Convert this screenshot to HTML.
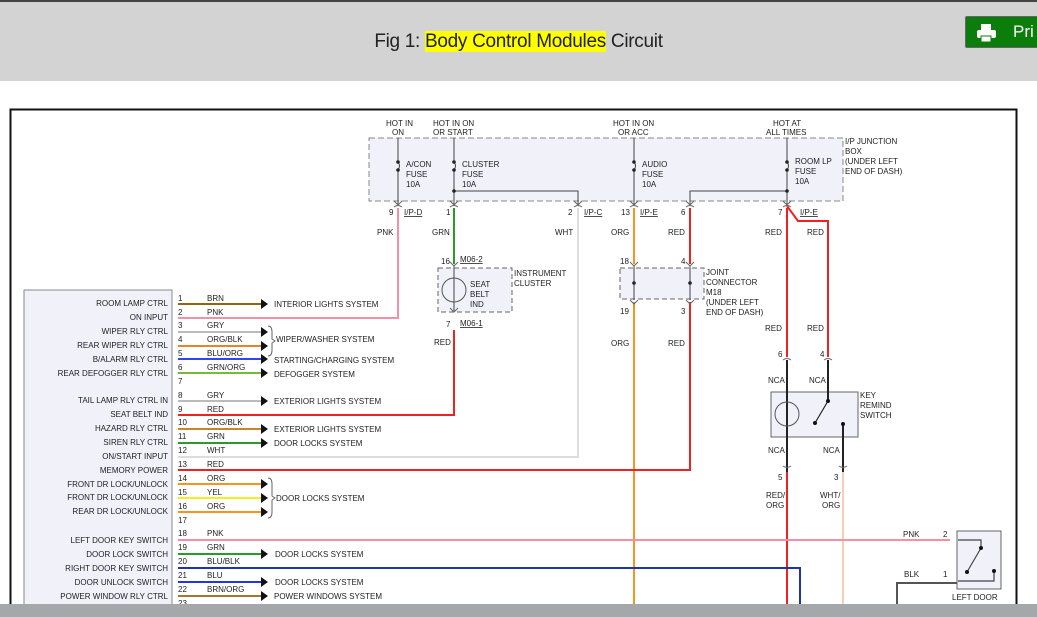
<!DOCTYPE html>
<html><head><meta charset="utf-8"><style>
html,body{margin:0;padding:0;width:1037px;height:617px;overflow:hidden;background:#fff;font-family:"Liberation Sans",sans-serif}
.hdr{position:absolute;left:0;top:0;width:1037px;height:81px;background:#d3d3d3;border-top:2px solid #444;box-sizing:border-box}
.ttl{position:absolute;left:0;width:1037px;top:31px;text-align:center;font-size:19px;color:#222;letter-spacing:-0.3px}
.ttl span{background:#ffff00}
.btn{position:absolute;left:965px;top:16px;width:80px;height:30px;background:#0a7d0a;border:1px solid #666;border-radius:2px;color:#fff;font-size:17px}
.bot{position:absolute;left:0;top:604px;width:1037px;height:13px;background:#a5a8ab}
svg{position:absolute;left:0;top:0}
text{font-family:"Liberation Sans",sans-serif;font-size:8px;fill:#222}
</style></head><body>
<div class="hdr"></div>
<div class="ttl">Fig 1: <span>Body Control Modules</span> Circuit</div>
<div class="btn"><svg width="30" height="30" style="position:absolute;left:10px;top:4px"><rect x="5" y="3" width="10" height="6" fill="#fff"/><rect x="1" y="9" width="19" height="8" rx="2" fill="#fff"/><rect x="5" y="15" width="10" height="6" fill="#fff" stroke="#0a7d0a"/></svg><span style="position:absolute;left:47px;top:5px">Pri</span></div>
<svg width="1037" height="617">
<rect x="10.5" y="109.5" width="1006" height="520" fill="none" stroke="#111" stroke-width="2"/>
<!-- fuse box -->
<rect x="369" y="138" width="474" height="63" fill="#f1f1fa" stroke="#888" stroke-dasharray="6,3"/>
<text x="386" y="126">HOT IN</text><text x="392" y="135">ON</text>
<text x="433" y="126">HOT IN ON</text><text x="433" y="135">OR START</text>
<text x="613" y="126">HOT IN ON</text><text x="618" y="135">OR ACC</text>
<text x="773" y="126">HOT AT</text><text x="766" y="135">ALL TIMES</text>
<text x="845" y="144">I/P JUNCTION</text><text x="845" y="154">BOX</text><text x="845" y="164">(UNDER LEFT</text><text x="845" y="174">END OF DASH)</text>
<g stroke="#444" fill="none">
<path d="M398 138V162M398 170V205M454 138V162M454 170V205M634 138V162M634 170V205M787 138V162M787 170V205"/>
<path d="M398 162q3 4 0 8M454 162q3 4 0 8M634 162q3 4 0 8M787 162q3 4 0 8"/>
<path d="M454 191H578V205M787 191H690V205"/>
</g>
<g fill="#222"><circle cx="398" cy="162" r="1.8"/><circle cx="398" cy="170" r="1.8"/><circle cx="454" cy="162" r="1.8"/><circle cx="454" cy="170" r="1.8"/><circle cx="634" cy="162" r="1.8"/><circle cx="634" cy="170" r="1.8"/><circle cx="787" cy="162" r="1.8"/><circle cx="787" cy="170" r="1.8"/><circle cx="454" cy="191" r="1.8"/><circle cx="787" cy="191" r="1.8"/></g>
<text x="406" y="167">A/CON</text><text x="406" y="177">FUSE</text><text x="406" y="187">10A</text>
<text x="462" y="167">CLUSTER</text><text x="462" y="177">FUSE</text><text x="462" y="187">10A</text>
<text x="642" y="167">AUDIO</text><text x="642" y="177">FUSE</text><text x="642" y="187">10A</text>
<text x="795" y="164">ROOM LP</text><text x="795" y="174">FUSE</text><text x="795" y="184">10A</text>
<g stroke="#666" fill="none"><path d="M394 201l4 4 4-4M450 201l4 4 4-4M574 201l4 4 4-4M630 201l4 4 4-4M686 201l4 4 4-4M783 201l4 4 4-4"/><path d="M394 207q4-3 8 0M450 207q4-3 8 0M574 207q4-3 8 0M630 207q4-3 8 0M686 207q4-3 8 0M783 207q4-3 8 0"/></g>
<text x="389" y="215">9</text><text x="404" y="215" text-decoration="underline">I/P-D</text>
<text x="446" y="215">1</text><text x="568" y="215">2</text><text x="584" y="215" text-decoration="underline">I/P-C</text>
<text x="621" y="215">13</text><text x="640" y="215" text-decoration="underline">I/P-E</text>
<text x="681" y="215">6</text><text x="778" y="215">7</text><text x="800" y="215" text-decoration="underline">I/P-E</text>
<text x="377" y="235">PNK</text><text x="432" y="235">GRN</text><text x="555" y="235">WHT</text><text x="611" y="235">ORG</text><text x="668" y="235">RED</text><text x="765" y="235">RED</text><text x="807" y="235">RED</text>
<!-- wires vertical -->
<g fill="none" stroke-width="2">
<path d="M398 208V318H178" stroke="#f48fa8"/>
<path d="M454 208V264" stroke="#2a9a2a"/>
<path d="M578 208V457H178" stroke="#ddd"/>
<path d="M634 208V264M634 302V604" stroke="#f7941d"/>
<path d="M690 208V264M690 302V470H178" stroke="#ee2222"/>
<path d="M454 330V415H178" stroke="#ee2222"/>
<path d="M787 208V357M787 206L798 221H828V357" stroke="#ee2222"/>
<path d="M787 472V604" stroke="#ee2222"/>
<path d="M843 472V604" stroke="#f0d0b8"/>
<path d="M178 540H950" stroke="#f48fa8"/>
<path d="M178 568H800V604" stroke="#2233aa"/>
</g>
<!-- instrument cluster -->
<rect x="438" y="268" width="74" height="44" fill="#f1f1fa" stroke="#666" stroke-dasharray="5,3"/>
<path d="M454 265V311" stroke="#444" fill="none"/>
<circle cx="454" cy="290" r="12" fill="none" stroke="#555"/>
<path d="M450 262l4 4 4-4M450 308l4 4 4-4" stroke="#666" fill="none"/>
<text x="441" y="264">16</text><text x="460" y="262" text-decoration="underline">M06-2</text>
<text x="470" y="287">SEAT</text><text x="470" y="297">BELT</text><text x="470" y="307">IND</text>
<text x="514" y="276">INSTRUMENT</text><text x="514" y="286">CLUSTER</text>
<text x="446" y="327">7</text><text x="460" y="326" text-decoration="underline">M06-1</text>
<text x="434" y="345">RED</text>
<!-- joint connector -->
<rect x="620" y="268" width="84" height="31" fill="#f1f1fa" stroke="#666" stroke-dasharray="5,3"/>
<path d="M634 266V300M690 266V300" stroke="#444"/>
<circle cx="634" cy="283" r="1.8" fill="#222"/><circle cx="690" cy="283" r="1.8" fill="#222"/>
<path d="M630 262l4 4 4-4M686 262l4 4 4-4M630 300l4 4 4-4M686 300l4 4 4-4" stroke="#666" fill="none"/>
<text x="620" y="264">18</text><text x="681" y="264">4</text><text x="620" y="314">19</text><text x="681" y="314">3</text>
<text x="706" y="275">JOINT</text><text x="706" y="285">CONNECTOR</text><text x="706" y="295">M18</text><text x="706" y="305">(UNDER LEFT</text><text x="706" y="315">END OF DASH)</text>
<text x="611" y="346">ORG</text><text x="668" y="346">RED</text>
<text x="765" y="331">RED</text><text x="807" y="331">RED</text>
<!-- key remind -->
<text x="778" y="357">6</text><text x="820" y="357">4</text>
<path d="M783 360q4-3 8 0M824 360q4-3 8 0" stroke="#666" fill="none"/>
<path d="M787 360V472M828 360V400L815 423M843 424V472" stroke="#222" stroke-width="2" fill="none"/>
<rect x="771" y="392" width="87" height="45" fill="#f1f1fa" stroke="#666"/>
<path d="M787 360V472M828 360V401M843 424V472" stroke="#222" stroke-width="2" fill="none"/>
<path d="M828 401L815 423" stroke="#222" stroke-width="1.2"/>
<circle cx="828" cy="401" r="2" fill="#111"/><circle cx="815" cy="423" r="2" fill="#111"/><circle cx="843" cy="424" r="2" fill="#111"/>
<circle cx="787" cy="414" r="12" fill="none" stroke="#555"/>
<text x="768" y="383">NCA</text><text x="809" y="383">NCA</text>
<text x="768" y="453">NCA</text><text x="823" y="453">NCA</text>
<path d="M783 466q4 3 8 0M839 466q4 3 8 0" stroke="#666" fill="none"/>
<text x="778" y="480">5</text><text x="834" y="480">3</text>
<text x="766" y="498">RED/</text><text x="766" y="508">ORG</text><text x="820" y="498">WHT/</text><text x="822" y="508">ORG</text>
<text x="860" y="398">KEY</text><text x="860" y="408">REMIND</text><text x="860" y="418">SWITCH</text>
<!-- left door key switch -->
<rect x="957" y="531" width="44" height="58" fill="#f1f1fa" stroke="#666"/>
<path d="M897 604V583H957" stroke="#555" stroke-width="2" fill="none"/>
<path d="M958 540H981V548L967 572M994 571V581H958" stroke="#444" stroke-width="1.2" fill="none"/>
<circle cx="981" cy="548" r="2" fill="#111"/><circle cx="967" cy="572" r="2" fill="#111"/><circle cx="994" cy="571" r="2" fill="#111"/>
<text x="903" y="537">PNK</text><text x="943" y="537">2</text><text x="904" y="577">BLK</text><text x="943" y="577">1</text>
<text x="952" y="600">LEFT DOOR</text>
<!-- module -->
<rect x="24" y="290" width="148" height="330" fill="#f1f1fa" stroke="#888"/>
<g text-anchor="end">
<text x="168" y="306">ROOM LAMP CTRL</text><text x="168" y="320">ON INPUT</text><text x="168" y="334">WIPER RLY CTRL</text><text x="168" y="348">REAR WIPER RLY CTRL</text><text x="168" y="362">B/ALARM RLY CTRL</text><text x="168" y="376">REAR DEFOGGER RLY CTRL</text><text x="168" y="403">TAIL LAMP RLY CTRL IN</text><text x="168" y="417">SEAT BELT IND</text><text x="168" y="431">HAZARD RLY CTRL</text><text x="168" y="445">SIREN RLY CTRL</text><text x="168" y="459">ON/START INPUT</text><text x="168" y="473">MEMORY POWER</text><text x="168" y="487">FRONT DR LOCK/UNLOCK</text><text x="168" y="500">FRONT DR LOCK/UNLOCK</text><text x="168" y="514">REAR DR LOCK/UNLOCK</text><text x="168" y="543">LEFT DOOR KEY SWITCH</text><text x="168" y="557">DOOR LOCK SWITCH</text><text x="168" y="571">RIGHT DOOR KEY SWITCH</text><text x="168" y="585">DOOR UNLOCK SWITCH</text><text x="168" y="599">POWER WINDOW RLY CTRL</text>
</g>
<g>
<text x="178" y="301">1</text><text x="178" y="315">2</text><text x="178" y="328">3</text><text x="178" y="342">4</text><text x="178" y="356">5</text><text x="178" y="370">6</text><text x="178" y="384">7</text><text x="178" y="398">8</text><text x="178" y="412">9</text><text x="178" y="425">10</text><text x="178" y="439">11</text><text x="178" y="453">12</text><text x="178" y="467">13</text><text x="178" y="481">14</text><text x="178" y="495">15</text><text x="178" y="509">16</text><text x="178" y="523">17</text><text x="178" y="536">18</text><text x="178" y="550">19</text><text x="178" y="564">20</text><text x="178" y="578">21</text><text x="178" y="592">22</text><text x="178" y="606">23</text>
<text x="207" y="301">BRN</text><text x="207" y="315">PNK</text><text x="207" y="328">GRY</text><text x="207" y="342">ORG/BLK</text><text x="207" y="356">BLU/ORG</text><text x="207" y="370">GRN/ORG</text><text x="207" y="398">GRY</text><text x="207" y="412">RED</text><text x="207" y="425">ORG/BLK</text><text x="207" y="439">GRN</text><text x="207" y="453">WHT</text><text x="207" y="467">RED</text><text x="207" y="481">ORG</text><text x="207" y="495">YEL</text><text x="207" y="509">ORG</text><text x="207" y="536">PNK</text><text x="207" y="550">GRN</text><text x="207" y="564">BLU/BLK</text><text x="207" y="578">BLU</text><text x="207" y="592">BRN/ORG</text>
</g>
<g fill="none" stroke-width="2">
<path d="M178 304H262" stroke="#8B6914"/><path d="M178 332H262" stroke="#bbb"/><path d="M178 346H262" stroke="#e8832a"/><path d="M178 359H262" stroke="#3344ee"/><path d="M178 373H262" stroke="#7ab83a"/><path d="M178 401H262" stroke="#bbb"/><path d="M178 429H262" stroke="#c8862a"/><path d="M178 443H262" stroke="#2a9a2a"/><path d="M178 484H262" stroke="#f7941d"/><path d="M178 498H262" stroke="#f0f020"/><path d="M178 512H262" stroke="#f7941d"/><path d="M178 554H262" stroke="#2a9a2a"/><path d="M178 582H262" stroke="#2233ee"/><path d="M178 596H262" stroke="#a07830"/>
</g>
<g fill="#111"><path d="M261 299l7 5-7 5zM261 327l7 5-7 5zM261 341l7 5-7 5zM261 354l7 5-7 5zM261 368l7 5-7 5zM261 396l7 5-7 5zM261 424l7 5-7 5zM261 438l7 5-7 5zM261 479l7 5-7 5zM261 493l7 5-7 5zM261 507l7 5-7 5zM261 549l7 5-7 5zM261 577l7 5-7 5zM261 591l7 5-7 5z"/></g>
<path d="M268 326q4 0 4 6v7l3 2-3 2v7q0 6-4 6M268 478q4 0 4 6v12l3 2-3 2v12q0 6-4 6" stroke="#666" fill="none"/>
<text x="274" y="307">INTERIOR LIGHTS SYSTEM</text><text x="276" y="342">WIPER/WASHER SYSTEM</text><text x="274" y="363">STARTING/CHARGING SYSTEM</text><text x="274" y="377">DEFOGGER SYSTEM</text><text x="274" y="404">EXTERIOR LIGHTS SYSTEM</text><text x="274" y="432">EXTERIOR LIGHTS SYSTEM</text><text x="274" y="446">DOOR LOCKS SYSTEM</text><text x="276" y="501">DOOR LOCKS SYSTEM</text><text x="275" y="557">DOOR LOCKS SYSTEM</text><text x="275" y="585">DOOR LOCKS SYSTEM</text><text x="274" y="599">POWER WINDOWS SYSTEM</text>
</svg>
<div class="bot"></div>
</body></html>
